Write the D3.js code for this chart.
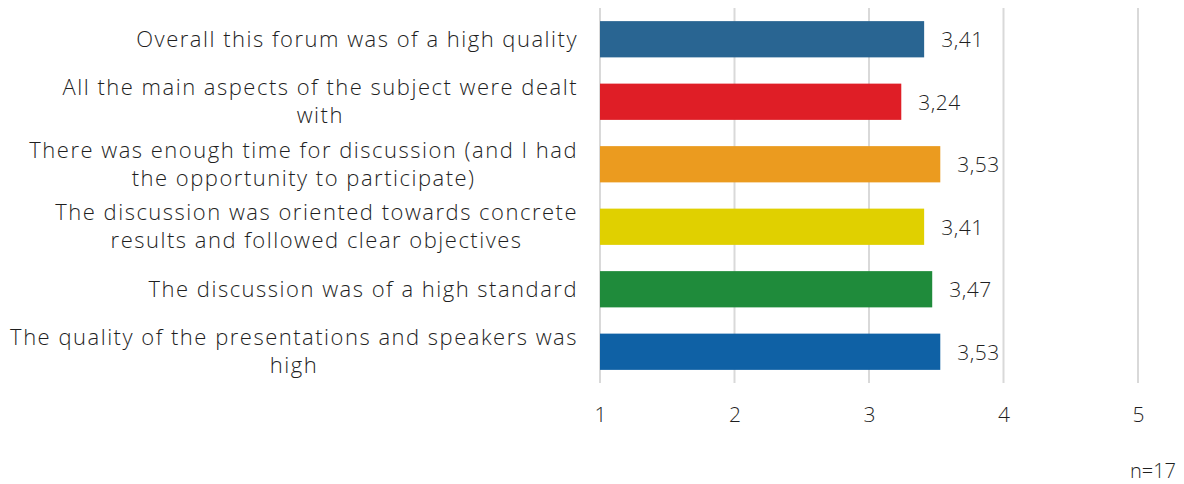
<!DOCTYPE html>
<html>
<head>
<meta charset="utf-8">
<script src="https://cdn.jsdelivr.net/npm/d3@7"></script>
<style>
  body { margin: 0; background: #fff; }
  text { font-family: "Open Sans", sans-serif; font-weight: 300; fill: #1f1f1f; }
</style>
</head>
<body>
<script>
// chart data
const categories = [
  "Overall this forum was of a high quality",
  "All the main aspects of the subject were dealt\nwith",
  "There was enough time for discussion (and I had\nthe opportunity to participate)",
  "The discussion was oriented towards concrete\nresults and followed clear objectives",
  "The discussion was of a high standard",
  "The quality of the presentations and speakers was\nhigh"
];
const values = [3.41, 3.24, 3.53, 3.41, 3.47, 3.53];
const colors = ["#296592", "#df1e26", "#eb9b1f", "#e0d000", "#1f8b3b", "#0f61a5"];
const ticks = [1, 2, 3, 4, 5];
const note = "n=17";

const width = 1184, height = 484;
const margin = {top: 8, right: 46, bottom: 101, left: 600};

const svg = d3.select("body").append("svg")
  .attr("width", width)
  .attr("height", height);

const x = d3.scaleLinear()
  .domain([1, 5])
  .range([margin.left, width - margin.right]);

const y = d3.scaleBand()
  .domain(categories)
  .range([margin.top, height - margin.bottom])
  .paddingInner(0.42)
  .paddingOuter(0.21);

// gridlines
svg.append("g")
  .selectAll("line")
  .data(ticks)
  .join("line")
    .attr("x1", d => x(d))
    .attr("x2", d => x(d))
    .attr("y1", margin.top)
    .attr("y2", height - margin.bottom)
    .attr("stroke", "#d9d9d9")
    .attr("stroke-width", 2);

// x axis tick labels
const xAxis = d3.axisBottom(x).tickValues(ticks).tickSize(0).tickPadding(24).tickFormat(d3.format("d"));
svg.append("g")
  .attr("transform", `translate(0,${height - margin.bottom})`)
  .call(xAxis)
  .call(g => g.select(".domain").remove())
  .call(g => g.selectAll("text")
    .style("font-family", "'Open Sans', sans-serif")
    .style("font-weight", 300)
    .style("font-size", "21px")
    .attr("fill", "#1f1f1f"));

// bars
svg.append("g")
  .selectAll("rect")
  .data(values)
  .join("rect")
    .attr("x", x(1))
    .attr("y", (d, i) => y(categories[i]))
    .attr("width", d => x(d) - x(1))
    .attr("height", y.bandwidth())
    .attr("fill", (d, i) => colors[i]);

// value labels
const fmt = d => d.toFixed(2).replace(".", ",");
svg.append("g")
  .selectAll("text")
  .data(values)
  .join("text")
    .attr("x", d => x(d) + 17)
    .attr("y", (d, i) => y(categories[i]) + y.bandwidth() / 2)
    .attr("dy", "0.38em")
    .style("font-size", "21px")
    .style("letter-spacing", "0.5px")
    .text(fmt);

// category labels, right aligned block, centred lines
const labelRight = margin.left - 22;
const lineH = 28;
const labels = svg.append("g");
categories.forEach(c => {
  const lines = c.split("\n");
  const t = labels.append("text")
    .style("font-size", "22px")
    .style("letter-spacing", "1.5px")
    .attr("text-anchor", "middle");
  const cy = y(c) + y.bandwidth() / 2;
  lines.forEach((ln, j) => {
    t.append("tspan")
      .attr("x", 0)
      .attr("y", cy + (j - (lines.length - 1) / 2) * lineH)
      .attr("dy", "0.35em")
      .text(ln);
  });
  const w = t.node().getBBox().width;
  t.selectAll("tspan").attr("x", labelRight - w / 2);
});

// sample size note
svg.append("text")
  .attr("x", width - 8)
  .attr("y", 478)
  .attr("text-anchor", "end")
  .style("font-size", "20px")
  .text(note);
</script>
</body>
</html>
